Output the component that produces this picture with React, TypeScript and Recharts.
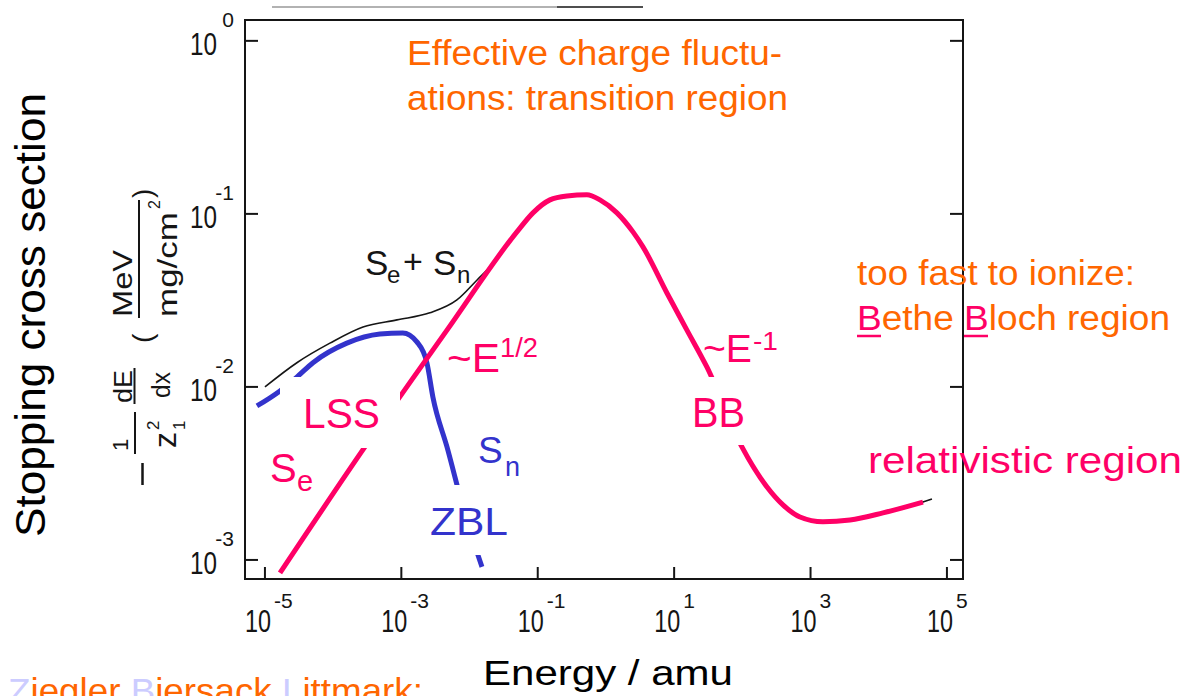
import React from 'react';
import { LineChart, Line, XAxis, YAxis, ReferenceArea } from 'recharts';

const PINK = '#ff0066';
const BLUE = '#3333cc';
const ORANGE = '#ff6600';
const LIGHT = '#ccccff';
const INK = '#151515';
const SANS = '"Liberation Sans", Arial, sans-serif';
const NARROW = '"Liberation Sans Narrow", "Liberation Sans", Arial, sans-serif';

// energy / amu (x) and stopping cross section (y)
const seEnergy = [1.66e-5, 2.92e-4, 4.67e-3, 4.95e-2, 8.51e-2, 0.151, 0.268, 0.526, 0.817, 1.45, 2.49, 3.49, 7.84, 15.4, 30.3, 98.6, 230, 394, 700, 1520, 3785, 11530, 44500];
const seValue = [8.41e-4, 4.5e-3, 2.13e-2, 7.87e-2, 0.1014, 0.1205, 0.127, 0.129, 0.1205, 0.1014, 0.0787, 0.0645, 0.0349, 0.0213, 0.013, 4.5e-3, 2.64e-3, 2.08e-3, 1.77e-3, 1.66e-3, 1.7e-3, 1.87e-3, 2.16e-3];

const snEnergy = [7.63e-6, 1.66e-5, 2.94e-5, 5.06e-5, 1.59e-4, 4.85e-4, 1.05e-3, 1.69e-3, 2.37e-3, 2.9e-3, 4.67e-3, 8.57e-3, 1.52e-2];
const snValue = [7.76e-3, 9.48e-3, 1.14e-2, 1.38e-2, 1.79e-2, 2.02e-2, 2.05e-2, 1.82e-2, 1.38e-2, 8.75e-3, 4.5e-3, 1.84e-3, 9.12e-4];

const totEnergy = [1.0e-5, 2.94e-5, 8.97e-5, 2.74e-4, 8.61e-4, 2.62e-3, 6.53e-3, 1.29e-2, 2.35e-2, 4.95e-2, 8.51e-2, 0.151, 0.268, 0.526, 0.817, 1.45, 2.49, 3.49, 7.84, 15.4, 30.3, 98.6, 230, 394, 700, 1520, 3785, 11530, 44500, 60300];
const totValue = [1.0e-2, 1.38e-2, 1.79e-2, 2.22e-2, 2.44e-2, 2.68e-2, 3.18e-2, 4.15e-2, 5.28e-2, 7.87e-2, 0.1014, 0.1205, 0.127, 0.129, 0.1205, 0.1014, 0.0787, 0.0645, 0.0349, 0.0213, 0.013, 4.5e-3, 2.64e-3, 2.08e-3, 1.77e-3, 1.66e-3, 1.7e-3, 1.87e-3, 2.16e-3, 2.25e-3];

const xTicks = [1e-5, 1e-3, 1e-1, 1e1, 1e3, 1e5];
const yTicks = [1e-3, 1e-2, 1e-1, 1];
const xDomain = [5.1e-6, 1.72e5];
const yDomain = [7.76e-4, 1.32];

const toRows = (xs: number[], ys: number[]) => xs.map((e, i) => ({ e, s: ys[i] }));
const seData = toRows(seEnergy, seValue);
const snData = toRows(snEnergy, snValue);
const totData = toRows(totEnergy, totValue);

const expText = (v: number) => {
  const p = Math.round(Math.log10(v));
  return p < 0 ? `-${-p}` : `${p}`;
};

const LeftTick = (props: any) => {
  const { x, y, payload } = props;
  return (
    <g>
      <line x1={x} y1={y} x2={x + 13} y2={y} stroke={INK} strokeWidth={2} />
      <text x={x - 55} y={y + 14} fontSize={32} fontFamily={NARROW} fill={INK} textLength={27} lengthAdjust="spacingAndGlyphs">10</text>
      <text x={x - 11} y={y - 14} fontSize={21} fontFamily={NARROW} fill={INK} textAnchor="end">{expText(payload.value)}</text>
    </g>
  );
};

const RightTick = (props: any) => {
  const { x, y } = props;
  return <line x1={x} y1={y} x2={x - 13} y2={y} stroke={INK} strokeWidth={2} />;
};

const BottomTick = (props: any) => {
  const { x, y, payload } = props;
  return (
    <g>
      <line x1={x} y1={y} x2={x} y2={y - 12} stroke={INK} strokeWidth={2} />
      <text x={x - 20} y={y + 53} fontSize={32} fontFamily={NARROW} fill={INK} textLength={26} lengthAdjust="spacingAndGlyphs">10</text>
      <text x={x + 9} y={y + 29} fontSize={21} fontFamily={NARROW} fill={INK}>{expText(payload.value)}</text>
    </g>
  );
};

const T = ({ x, y, size, len, fill, family = SANS, children }: any) => (
  <text x={x} y={y} fontSize={size} fill={fill} fontFamily={family} textLength={len} lengthAdjust={len ? 'spacingAndGlyphs' : undefined}>
    {children}
  </text>
);

function Overlay() {
  return (
    <svg width={1183} height={696} style={{ position: 'absolute', left: 0, top: 0, pointerEvents: 'none' }}>
      {/* scrap of a line above the frame */}
      <line x1={272} y1={7} x2={557} y2={7} stroke="#999" strokeWidth={1.5} />
      <line x1={557} y1={7} x2={643} y2={7} stroke={INK} strokeWidth={1.5} />

      {/* white patches behind the curve labels */}
      <rect x={280} y={377} width={120} height={71} fill="#fff" />
      <rect x={425} y={485} width={85} height={70} fill="#fff" />
      <rect x={686} y={377} width={62} height={68} fill="#fff" />

      <T x={407} y={65} size={35} len={375} fill={ORANGE}>Effective charge fluctu-</T>
      <T x={407} y={110} size={35} len={381} fill={ORANGE}>ations: transition region</T>

      <T x={857} y={285} size={35} len={278} fill={ORANGE}>too fast to ionize:</T>
      <T x={857} y={330} size={35} len={313} fill={ORANGE}>
        <tspan fill={PINK}>B</tspan>ethe <tspan fill={PINK}>B</tspan>loch region
      </T>
      <line x1={857} y1={336} x2={881} y2={336} stroke={PINK} strokeWidth={2.5} />
      <line x1={964} y1={336} x2={988} y2={336} stroke={PINK} strokeWidth={2.5} />
      <T x={868} y={473} size={36} len={314} fill={PINK}>relativistic region</T>

      <T x={303} y={428} size={42} len={77} fill={PINK}>LSS</T>
      <T x={270} y={482} size={40} fill={PINK}>S</T>
      <T x={297} y={491} size={29} fill={PINK}>e</T>
      <T x={430} y={535} size={39} len={78} fill={BLUE}>ZBL</T>
      <T x={478} y={463} size={37} fill={BLUE}>S</T>
      <T x={505} y={476} size={27} fill={BLUE}>n</T>
      <T x={447} y={372} size={40} len={53} fill={PINK}>~E</T>
      <T x={500} y={357} size={27} len={38} fill={PINK}>1/2</T>
      <T x={703} y={362} size={38} len={49} fill={PINK}>~E</T>
      <T x={753} y={350} size={26} len={25} fill={PINK}>-1</T>
      <T x={692} y={427} size={42} len={53} fill={PINK}>BB</T>

      <T x={365} y={275} size={35} fill={INK}>S</T>
      <T x={387} y={283} size={24} fill={INK}>e</T>
      <T x={403} y={273} size={34} fill={INK}>+</T>
      <T x={433} y={275} size={35} fill={INK}>S</T>
      <T x={457} y={283} size={24} fill={INK}>n</T>

      {/* axis titles */}
      <text transform="translate(45 537) rotate(-90)" fontSize={42} fontFamily={SANS} fill="#000" textLength={444} lengthAdjust="spacingAndGlyphs">Stopping cross section</text>
      <T x={483} y={685} size={35} len={250} fill="#000">Energy / amu</T>
      <T x={8} y={703} size={35} len={415} fill={ORANGE}>
        <tspan fill={LIGHT}>Z</tspan>iegler <tspan fill={LIGHT}>B</tspan>iersack <tspan fill={LIGHT}>L</tspan>ittmark:
      </T>

      {/* scanned y label: -1/z1^2 dE/dx (MeV / mg/cm^2), rotated */}
      <g transform="translate(136 490) rotate(-90)" fill={INK} fontFamily={SANS}>
        <line x1={5} y1={6.5} x2={27} y2={6.5} stroke={INK} strokeWidth={2.5} />
        <text x={39} y={-8} fontSize={22}>1</text>
        <line x1={36} y1={-1} x2={78} y2={-1} stroke={INK} strokeWidth={2} />
        <text x={42} y={40} fontSize={32}>z</text>
        <text x={60} y={23} fontSize={17}>2</text>
        <text x={60} y={49} fontSize={17}>1</text>
        <text x={87} y={-4} fontSize={26} textLength={33} lengthAdjust="spacingAndGlyphs">dE</text>
        <line x1={86} y1={-1.5} x2={122} y2={-1.5} stroke={INK} strokeWidth={2} />
        <text x={92} y={34} fontSize={26} textLength={26} lengthAdjust="spacingAndGlyphs">dx</text>
        <text x={147} y={16} fontSize={28}>(</text>
        <text x={173} y={-4} fontSize={28} textLength={67} lengthAdjust="spacingAndGlyphs">MeV</text>
        <line x1={172} y1={3} x2={290} y2={3} stroke={INK} strokeWidth={2} />
        <text x={173} y={41} fontSize={28} textLength={105} lengthAdjust="spacingAndGlyphs">mg/cm</text>
        <text x={281} y={24} fontSize={16}>2</text>
        <text x={292} y={16} fontSize={28}>)</text>
      </g>
    </svg>
  );
}

export default function App() {
  return (
    <div style={{ position: 'absolute', left: 0, top: 0, width: 1183, height: 696, background: '#fff', overflow: 'hidden' }}>
      <LineChart width={1183} height={696} margin={{ top: 20, left: 185, right: 200, bottom: 57 }}>
        <XAxis
          dataKey="e"
          type="number"
          scale="log"
          domain={xDomain}
          allowDataOverflow
          ticks={xTicks}
          height={60}
          axisLine={false}
          tickLine={false}
          tickSize={0}
          tickMargin={0}
          tick={<BottomTick />}
        />
        <YAxis
          yAxisId="l"
          type="number"
          scale="log"
          domain={yDomain}
          allowDataOverflow
          ticks={yTicks}
          width={60}
          axisLine={false}
          tickLine={false}
          tickSize={0}
          tickMargin={0}
          tick={<LeftTick />}
        />
        <YAxis
          yAxisId="r"
          orientation="right"
          type="number"
          scale="log"
          domain={yDomain}
          allowDataOverflow
          ticks={yTicks}
          width={20}
          axisLine={false}
          tickLine={false}
          tickSize={0}
          tickMargin={0}
          tick={<RightTick />}
        />
        <ReferenceArea yAxisId="l" x1={xDomain[0]} x2={xDomain[1]} y1={yDomain[0]} y2={yDomain[1]} fill="none" stroke={INK} strokeWidth={2} fillOpacity={0} />
        <Line yAxisId="l" data={totData} dataKey="s" type="monotone" stroke={INK} strokeWidth={1.6} dot={false} isAnimationActive={false} />
        <Line yAxisId="l" data={snData} dataKey="s" type="monotone" stroke={BLUE} strokeWidth={5} dot={false} isAnimationActive={false} />
        <Line yAxisId="l" data={seData} dataKey="s" type="monotone" stroke={PINK} strokeWidth={5} dot={false} isAnimationActive={false} />
      </LineChart>
      <Overlay />
    </div>
  );
}
